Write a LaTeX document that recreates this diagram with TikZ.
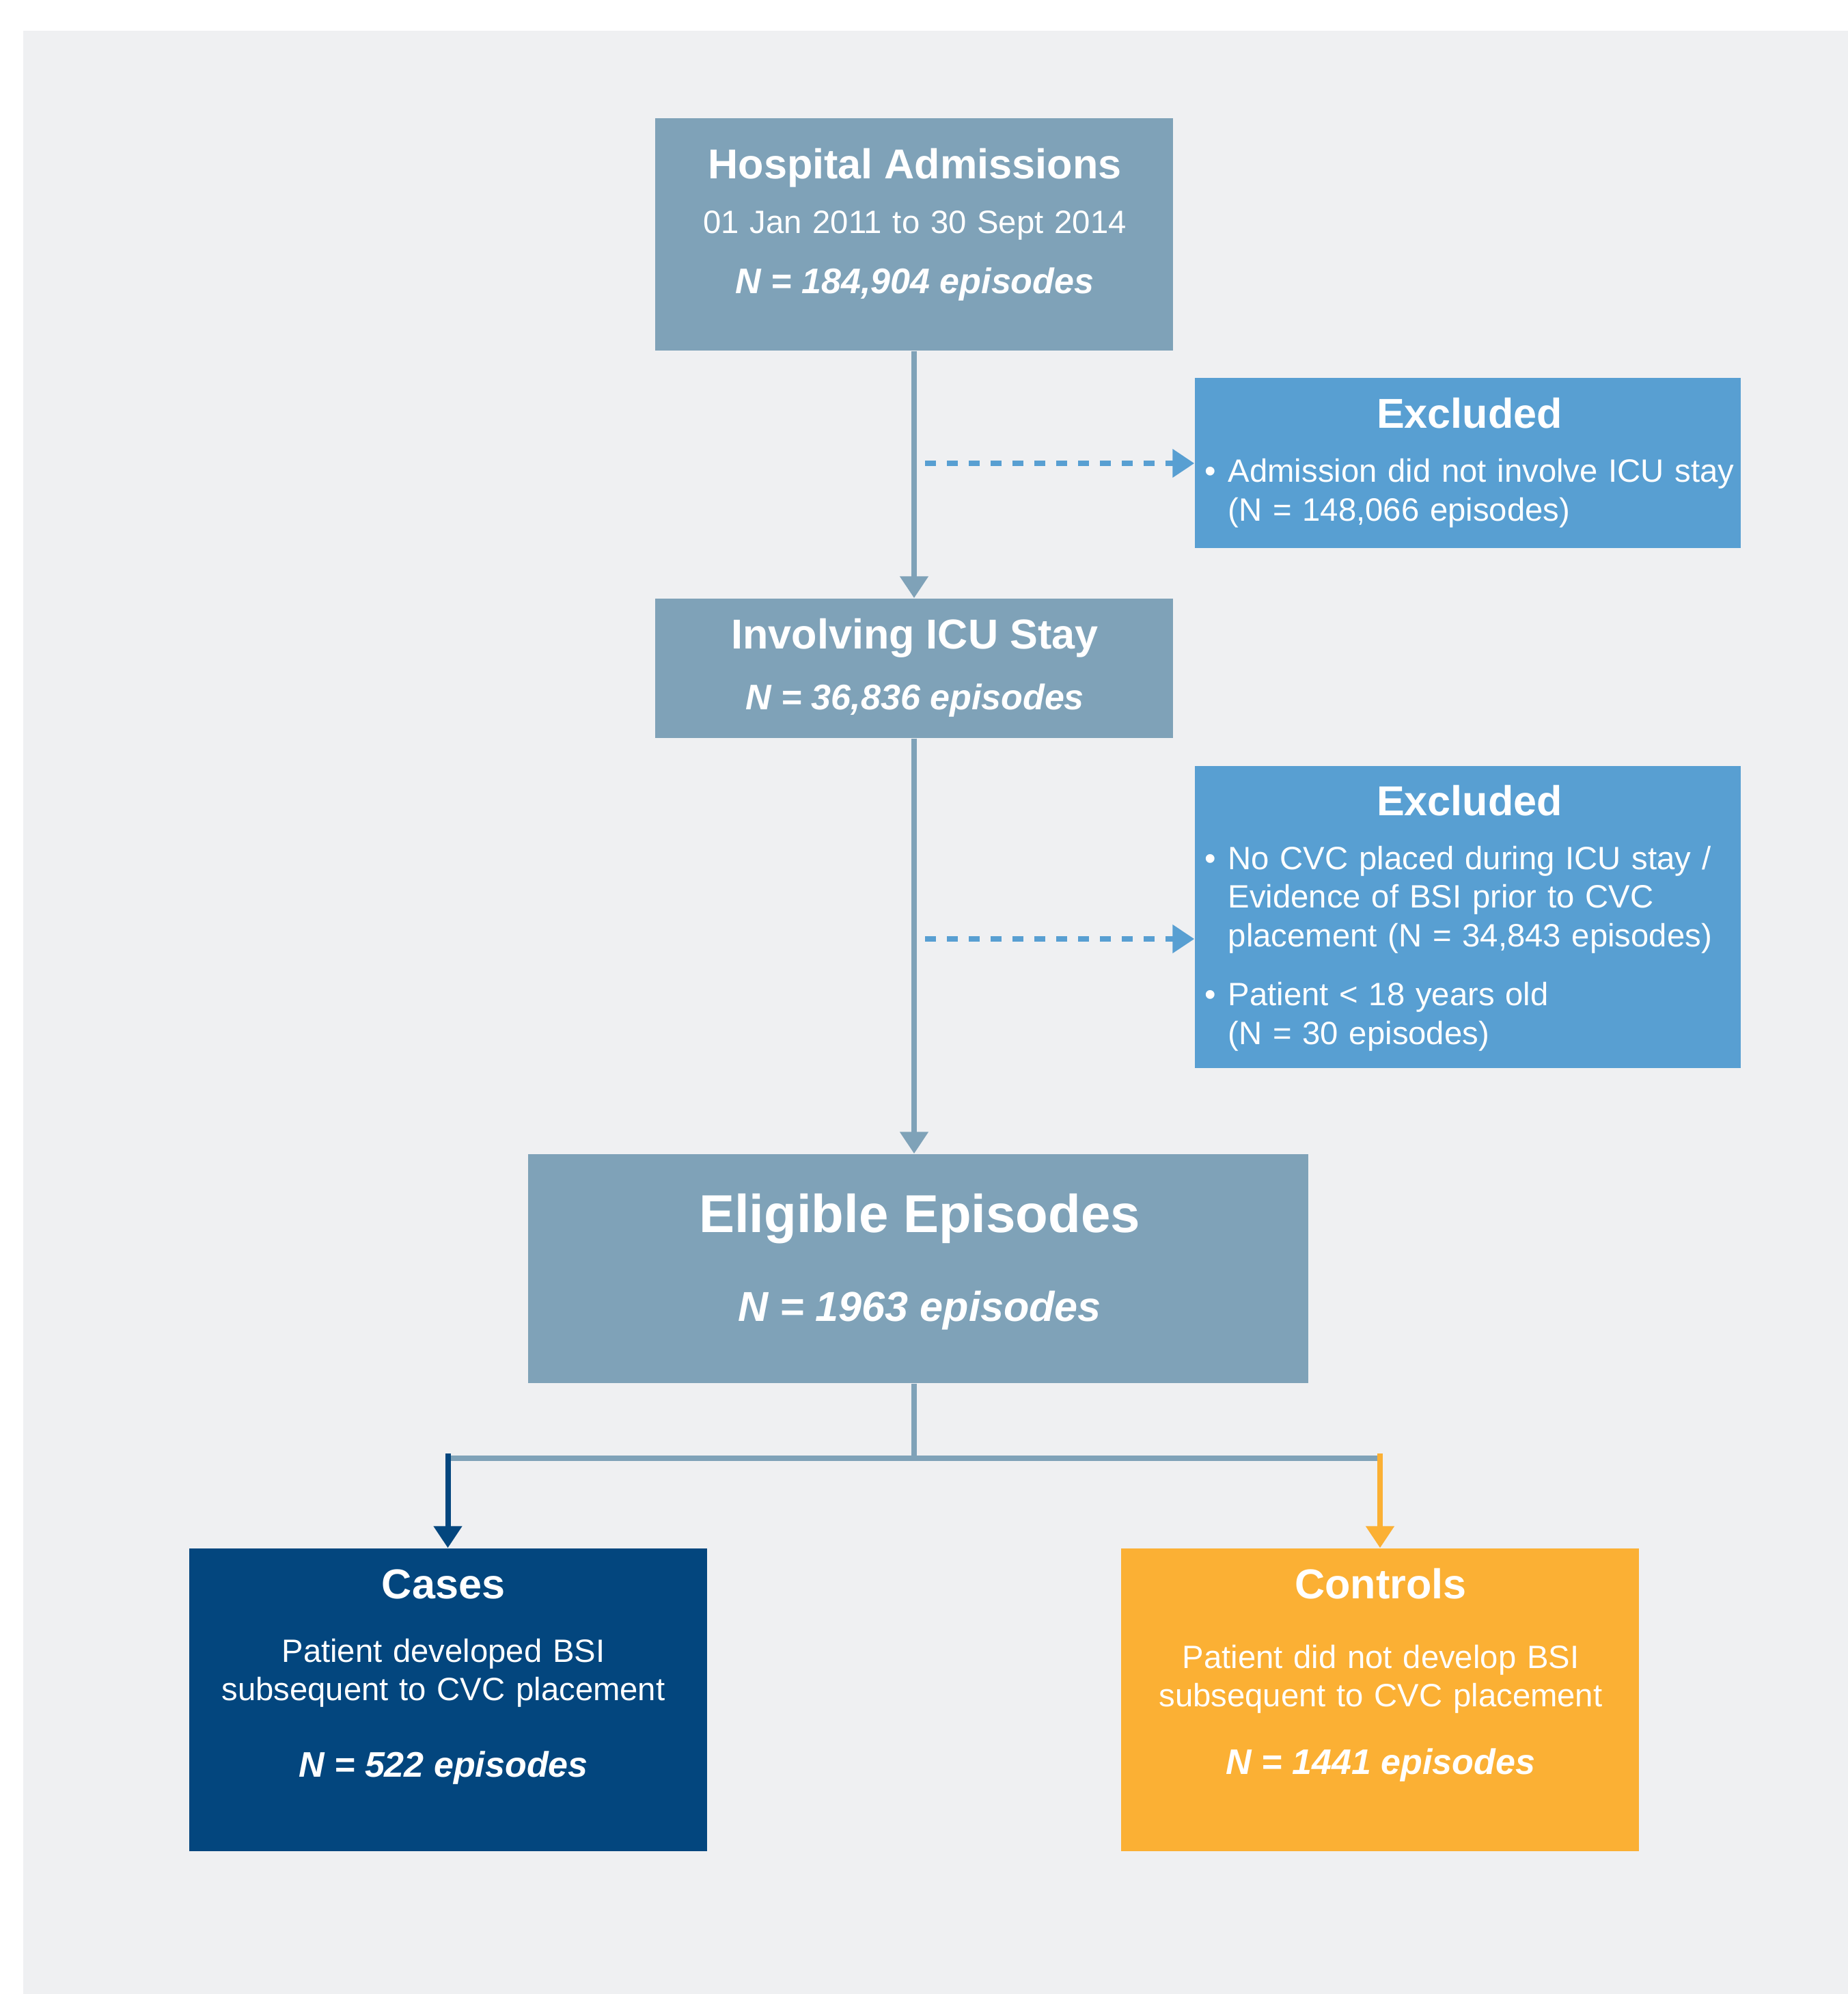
\documentclass[tikz,border=0pt]{standalone}
\usepackage{fontspec}
\setmainfont{Liberation Sans}
\usepackage{xcolor}
\usetikzlibrary{positioning,arrows.meta}

\definecolor{bgc}{HTML}{EFF0F2}
\definecolor{boxgrey}{HTML}{7FA2B8}
\definecolor{exblue}{HTML}{589FD2}
\definecolor{navy}{HTML}{03467E}
\definecolor{amber}{HTML}{FBB034}

\tikzset{
  box/.style={rectangle, inner sep=0pt, minimum width=7.58cm},
  hd/.style={anchor=base, text=white, font=\bfseries\fontsize{17.4}{20}\selectfont},
  txt/.style={anchor=base, text=white, text width=8cm, align=center, font=\fontsize{13.45}{16.2}\selectfont},
  num/.style={anchor=base, text=white, font=\bfseries\itshape\fontsize{14.8}{17}\selectfont},
  items/.style={anchor=base west, inner sep=0pt, text=white, text width=8.2cm, align=left, font=\fontsize{13.45}{16.2}\selectfont},
  link/.style={line width=0.08cm, draw=boxgrey},
  arr/.style={-{Triangle[length=0.32cm,width=0.4cm]}},
  excl/.style={line width=0.085cm, draw=exblue, dash pattern=on 0.16cm off 0.16cm, arr},
}
\newcommand{\bul}{\makebox[0.34cm][l]{•}}
\newcommand{\ind}{\hspace*{0.34cm}}

\begin{document}
\begin{tikzpicture}
  \useasboundingbox (0,0) rectangle (27.05,-29.18);
  \fill[bgc] (0.335,-0.446) rectangle (27.05,-29.18);

  % boxes
  \node[box, fill=boxgrey, minimum height=3.405cm] (hosp) at (13.38,-3.4275) {};
  \node[box, fill=exblue, minimum width=7.99cm, minimum height=2.49cm] (ex1) at (21.485,-6.775) {};
  \node[box, fill=boxgrey, minimum height=2.04cm] (icu) at (13.38,-9.78) {};
  \node[box, fill=exblue, minimum width=7.99cm, minimum height=4.423cm] (ex2) at (21.485,-13.4185) {};
  \node[box, fill=boxgrey, minimum width=11.42cm, minimum height=3.35cm] (elig) at (13.44,-18.565) {};
  \node[box, fill=navy, minimum height=4.43cm] (cases) at (6.555,-24.875) {};
  \node[box, fill=amber, minimum height=4.43cm] (ctrl) at (20.2,-24.875) {};

  % texts
  \node[hd] (hospT) at (13.39,-2.61) {Hospital Admissions};
  \node[txt] (hospD) at (13.39,-3.41) {01 Jan 2011 to 30 Sept 2014};
  \node[num] (hospN) at (13.39,-4.29) {N = 184,904 episodes};

  \node[hd] (exT1) at (21.51,-6.26) {Excluded};
  \node[items] (exL1) at (17.63,-7.057) {\bul Admission did not involve ICU stay\\\ind(N = 148,066 episodes)};

  \node[hd] (icuT) at (13.39,-9.49) {Involving ICU Stay};
  \node[num] (icuN) at (13.39,-10.38) {N = 36,836 episodes};

  \node[hd] (exT2) at (21.51,-11.93) {Excluded};
  \node[items] (exL2) at (17.63,-12.72) {\bul No CVC placed during ICU stay /\\\ind Evidence of BSI prior to CVC\\\ind placement (N = 34,843 episodes)};
  \node[items] (exL3) at (17.63,-14.717) {\bul Patient < 18 years old\\\ind(N = 30 episodes)};

  \node[hd, font=\bfseries\fontsize{22.2}{26}\selectfont] (eligT) at (13.46,-18.03) {Eligible Episodes};
  \node[num, font=\bfseries\itshape\fontsize{17.4}{20}\selectfont] (eligN) at (13.46,-19.33) {N = 1963 episodes};

  \node[hd] (casesT) at (6.49,-23.39) {Cases};
  \node[txt] (casesD) at (6.49,-24.32) {Patient developed BSI\\subsequent to CVC placement};
  \node[num] (casesN) at (6.49,-26.007) {N = 522 episodes};

  \node[hd] (ctrlT) at (20.21,-23.39) {Controls};
  \node[txt] (ctrlD) at (20.21,-24.41) {Patient did not develop BSI\\subsequent to CVC placement};
  \node[num] (ctrlN) at (20.21,-25.96) {N = 1441 episodes};

  % main flow
  \draw[link, arr] (hosp) -- (icu);
  \draw[link, arr] (icu.south) -- (icu.south |- elig.north);

  % exclusions
  \coordinate (d1) at (13.54,-6.78);
  \coordinate (d2) at (13.54,-13.74);
  \draw[excl] (d1) -- (d1 -| ex1.west);
  \draw[excl] (d2) -- (d2 -| ex2.west);

  % split into cases and controls
  \coordinate (split) at (13.38,-21.34);
  \draw[link] (elig.south -| icu.south) -- (split);
  \draw[link] (cases.north |- split) -- (ctrl.north |- split);
  \path (cases.north |- split) ++(0,0.07) coordinate (lsplit);
  \path (ctrl.north |- split) ++(0,0.07) coordinate (rsplit);
  \draw[link, draw=navy, arr] (lsplit) -- (cases.north);
  \draw[link, draw=amber, arr] (rsplit) -- (ctrl.north);
\end{tikzpicture}
\end{document}
